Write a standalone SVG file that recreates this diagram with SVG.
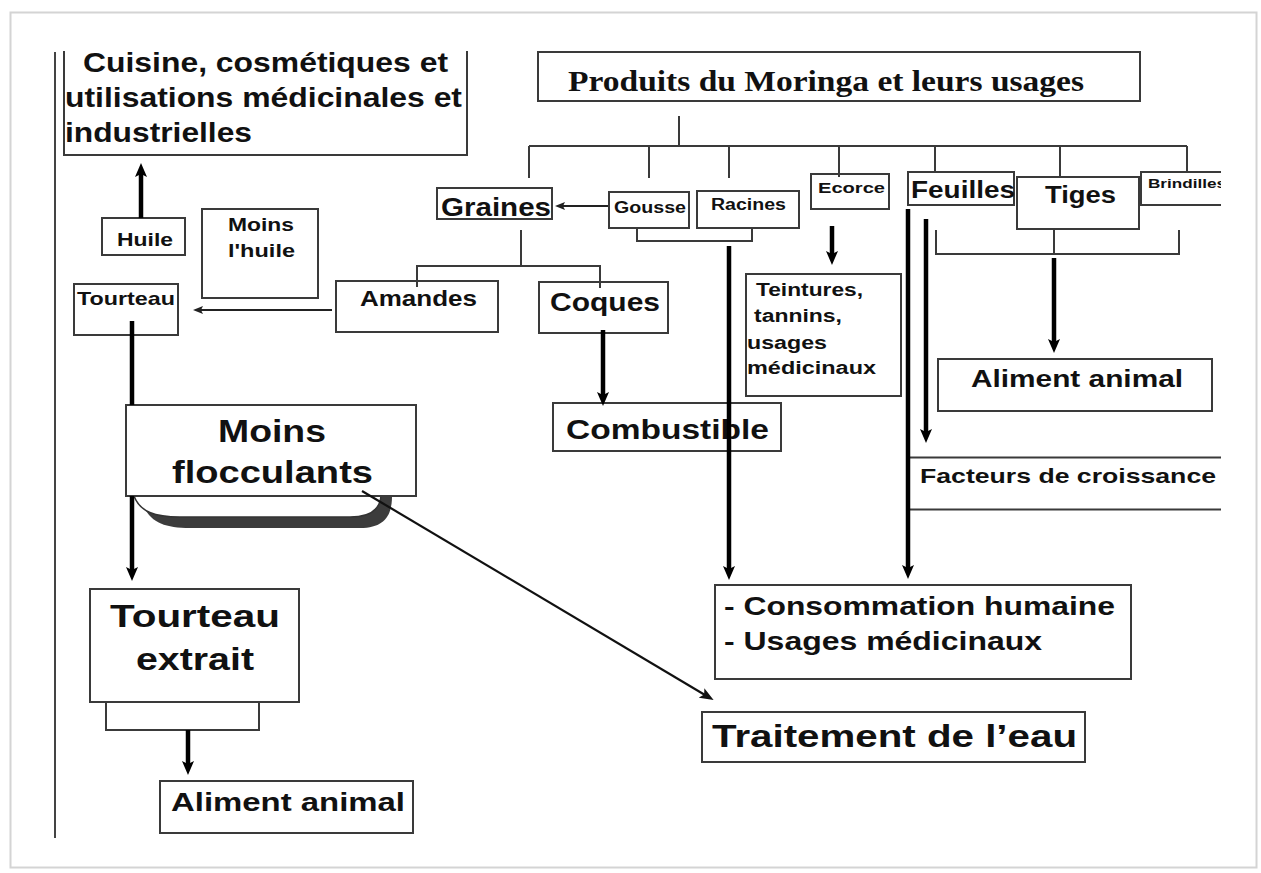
<svg xmlns="http://www.w3.org/2000/svg" width="1261" height="873" viewBox="0 0 1261 873">
<style>
.box{fill:#fff;stroke:#3a3a3a;stroke-width:2}
.t{font-family:"Liberation Sans",Arial,sans-serif;font-weight:bold;fill:#111}
.serif{font-family:"Liberation Serif","Times New Roman",serif;font-weight:bold;fill:#111}
.ln{fill:none;stroke:#3a3a3a;stroke-width:2}
.thick{fill:none;stroke:#000;stroke-width:4.5}
.thin{fill:none;stroke:#222;stroke-width:1.8}
</style>
<defs>
<clipPath id="clip"><rect x="0" y="51" width="1221" height="822"/></clipPath>
<marker id="ah" viewBox="0 0 14 12" refX="5" refY="6" markerWidth="14" markerHeight="12" markerUnits="userSpaceOnUse" orient="auto"><path d="M0,0 L14,6 L0,12 L3,6 z" fill="#000"/></marker>
<marker id="as" viewBox="0 0 10 8" refX="3" refY="4" markerWidth="10" markerHeight="8" markerUnits="userSpaceOnUse" orient="auto"><path d="M0,0 L10,4 L0,8 L2,4 z" fill="#222"/></marker>
<marker id="am" viewBox="0 0 14 11" refX="4" refY="5.5" markerWidth="14" markerHeight="11" markerUnits="userSpaceOnUse" orient="auto"><path d="M0,0 L14,5.5 L0,11 L3,5.5 z" fill="#111"/></marker>
</defs>
<rect x="0" y="0" width="1261" height="873" fill="#fff"/>
<rect x="10.5" y="12.5" width="1246" height="855" fill="#fff" stroke="#d4d4d4" stroke-width="2"/>
<line x1="55" y1="52" x2="55" y2="838" stroke="#444" stroke-width="2"/>
<g clip-path="url(#clip)">
<g id="cuisine"><rect class="box" x="64" y="30" width="403" height="125"/>
<text class="t" font-size="27" x="83" y="72" textLength="365" lengthAdjust="spacingAndGlyphs">Cuisine, cosmétiques et</text>
<text class="t" font-size="27" x="65" y="107" textLength="397" lengthAdjust="spacingAndGlyphs">utilisations médicinales et</text>
<text class="t" font-size="27" x="65" y="142" textLength="187" lengthAdjust="spacingAndGlyphs">industrielles</text></g>
<g id="produits"><rect class="box" x="538" y="52" width="602" height="49"/>
<text class="serif" font-size="30" x="568" y="91" textLength="516" lengthAdjust="spacingAndGlyphs">Produits du Moringa et leurs usages</text></g>
<g id="huile"><rect class="box" x="102" y="218" width="83" height="37"/>
<text class="t" font-size="18" x="117" y="246" textLength="56" lengthAdjust="spacingAndGlyphs">Huile</text></g>
<g id="moins-huile"><rect class="box" x="202" y="209" width="116" height="89"/>
<text class="t" font-size="18" x="228" y="231" textLength="66" lengthAdjust="spacingAndGlyphs">Moins</text>
<text class="t" font-size="18" x="228" y="257" textLength="67" lengthAdjust="spacingAndGlyphs">l'huile</text></g>
<g id="tourteau"><rect class="box" x="74" y="284" width="104" height="51"/>
<text class="t" font-size="19" x="77" y="305" textLength="98" lengthAdjust="spacingAndGlyphs">Tourteau</text></g>
<g id="amandes"><rect class="box" x="336" y="281" width="162" height="51"/>
<text class="t" font-size="22" x="360" y="306" textLength="117" lengthAdjust="spacingAndGlyphs">Amandes</text></g>
<g id="graines"><rect class="box" x="437" y="188" width="115" height="31"/>
<text class="t" font-size="25" x="441" y="216" textLength="110" lengthAdjust="spacingAndGlyphs">Graines</text></g>
<g id="gousse"><rect class="box" x="609" y="192" width="80" height="36"/>
<text class="t" font-size="16" x="614" y="213" textLength="72" lengthAdjust="spacingAndGlyphs">Gousse</text></g>
<g id="racines"><rect class="box" x="697" y="191" width="102" height="37"/>
<text class="t" font-size="16" x="711" y="210" textLength="75" lengthAdjust="spacingAndGlyphs">Racines</text></g>
<g id="ecorce"><rect class="box" x="811" y="174" width="78" height="35"/>
<text class="t" font-size="15" x="818" y="193" textLength="67" lengthAdjust="spacingAndGlyphs">Ecorce</text></g>
<g id="feuilles"><rect class="box" x="908" y="172" width="106" height="33"/>
<text class="t" font-size="23" x="911" y="198" textLength="104" lengthAdjust="spacingAndGlyphs">Feuilles</text></g>
<g id="tiges"><rect class="box" x="1017" y="177" width="122" height="52"/>
<text class="t" font-size="23" x="1045" y="203" textLength="71" lengthAdjust="spacingAndGlyphs">Tiges</text></g>
<g id="brindilles"><rect class="box" x="1141" y="172" width="120" height="33"/>
<text class="t" font-size="13" x="1148" y="188" textLength="78" lengthAdjust="spacingAndGlyphs">Brindilles</text></g>
<g id="teintures"><rect class="box" x="746" y="274" width="155" height="122"/>
<text class="t" font-size="18" x="756" y="296" textLength="107" lengthAdjust="spacingAndGlyphs">Teintures,</text>
<text class="t" font-size="18" x="754" y="322" textLength="88" lengthAdjust="spacingAndGlyphs">tannins,</text>
<text class="t" font-size="18" x="747" y="349" textLength="80" lengthAdjust="spacingAndGlyphs">usages</text>
<text class="t" font-size="18" x="747" y="374" textLength="129" lengthAdjust="spacingAndGlyphs">médicinaux</text></g>
<g id="coques"><rect class="box" x="539" y="282" width="129" height="51"/>
<text class="t" font-size="26" x="550" y="311" textLength="110" lengthAdjust="spacingAndGlyphs">Coques</text></g>
<g id="combustible"><rect class="box" x="553" y="403" width="228" height="48"/>
<text class="t" font-size="27" x="566" y="439" textLength="203" lengthAdjust="spacingAndGlyphs">Combustible</text></g>
<g id="moins-flocculants">
<path d="M140 496 C146 520 160 528 190 528 L360 528 C385 528 392 515 392 496 Z" fill="#3c3c3c"/>
<path d="M134 496 C140 512 155 517 180 517 L350 517 C372 517 380 508 381 496 Z" fill="#fff" stroke="#333" stroke-width="1.5"/>
<rect class="box" x="126" y="405" width="290" height="91"/>
<text class="t" font-size="31" x="218" y="442" textLength="108" lengthAdjust="spacingAndGlyphs">Moins</text>
<text class="t" font-size="31" x="172" y="483" textLength="201" lengthAdjust="spacingAndGlyphs">flocculants</text></g>
<g id="aliment-animal-1"><rect class="box" x="938" y="359" width="274" height="52"/>
<text class="t" font-size="24" x="971" y="387" textLength="212" lengthAdjust="spacingAndGlyphs">Aliment animal</text></g>
<g id="facteurs"><rect class="box" x="908" y="457.5" width="330" height="52"/>
<text class="t" font-size="21" x="920" y="483" textLength="296" lengthAdjust="spacingAndGlyphs">Facteurs de croissance</text></g>
<g id="consommation"><rect class="box" x="715" y="585" width="416" height="94"/>
<text class="t" font-size="26" x="724" y="615" textLength="391" lengthAdjust="spacingAndGlyphs">- Consommation humaine</text>
<text class="t" font-size="26" x="724" y="650" textLength="318" lengthAdjust="spacingAndGlyphs">- Usages médicinaux</text></g>
<g id="traitement"><rect class="box" x="702" y="712" width="383" height="50"/>
<text class="t" font-size="32" x="712" y="747" textLength="365" lengthAdjust="spacingAndGlyphs">Traitement de l’eau</text></g>
<g id="tourteau-extrait"><rect class="box" x="90" y="589" width="209" height="113"/>
<text class="t" font-size="32" x="110" y="627" textLength="170" lengthAdjust="spacingAndGlyphs">Tourteau</text>
<text class="t" font-size="32" x="136" y="670" textLength="118" lengthAdjust="spacingAndGlyphs">extrait</text></g>
<g id="aliment-animal-2"><rect class="box" x="160" y="781" width="253" height="52"/>
<text class="t" font-size="26" x="171" y="811" textLength="234" lengthAdjust="spacingAndGlyphs">Aliment animal</text></g>
<g id="connectors">
<path class="ln" d="M679 116 V146 M529 146 H1187 M529 146 V178 M649 146 V178 M729 146 V178 M839 146 V177 M935 146 V172 M1060 146 V177 M1187 146 V172"/>
<path class="ln" d="M521 230 V266 M417 287 V266 H600 V288"/>
<path class="ln" d="M637 228 V241 H752 V228"/>
<path class="ln" d="M936 230 V254 H1179 V230 M1054 229 V254"/>
<path class="ln" d="M106 702 V730 H259 V702"/>
<line class="thick" x1="141" y1="218" x2="141" y2="172" marker-end="url(#ah)"/>
<line class="thin" x1="608" y1="206" x2="562" y2="206" marker-end="url(#as)"/>
<line class="thin" x1="332" y1="310" x2="200" y2="310" marker-end="url(#as)"/>
<path class="thick" d="M132 321 V405"/>
<line class="thick" x1="132" y1="496" x2="132" y2="572" marker-end="url(#ah)"/>
<line class="thick" x1="188" y1="730" x2="188" y2="766" marker-end="url(#ah)"/>
<line class="thick" x1="729" y1="246" x2="729" y2="571" marker-end="url(#ah)"/>
<line class="thick" x1="832" y1="226" x2="832" y2="256" marker-end="url(#ah)"/>
<line class="thick" x1="603" y1="330" x2="603" y2="397" marker-end="url(#ah)"/>
<line class="thick" x1="908" y1="209" x2="908" y2="570" marker-end="url(#ah)"/>
<line class="thick" x1="926" y1="219" x2="926" y2="434" marker-end="url(#ah)"/>
<line class="thick" x1="1054" y1="258" x2="1054" y2="344" marker-end="url(#ah)"/>
<line x1="362" y1="491" x2="705" y2="695" stroke="#111" stroke-width="2.2" marker-end="url(#am)"/>
</g>
</g>
</svg>
